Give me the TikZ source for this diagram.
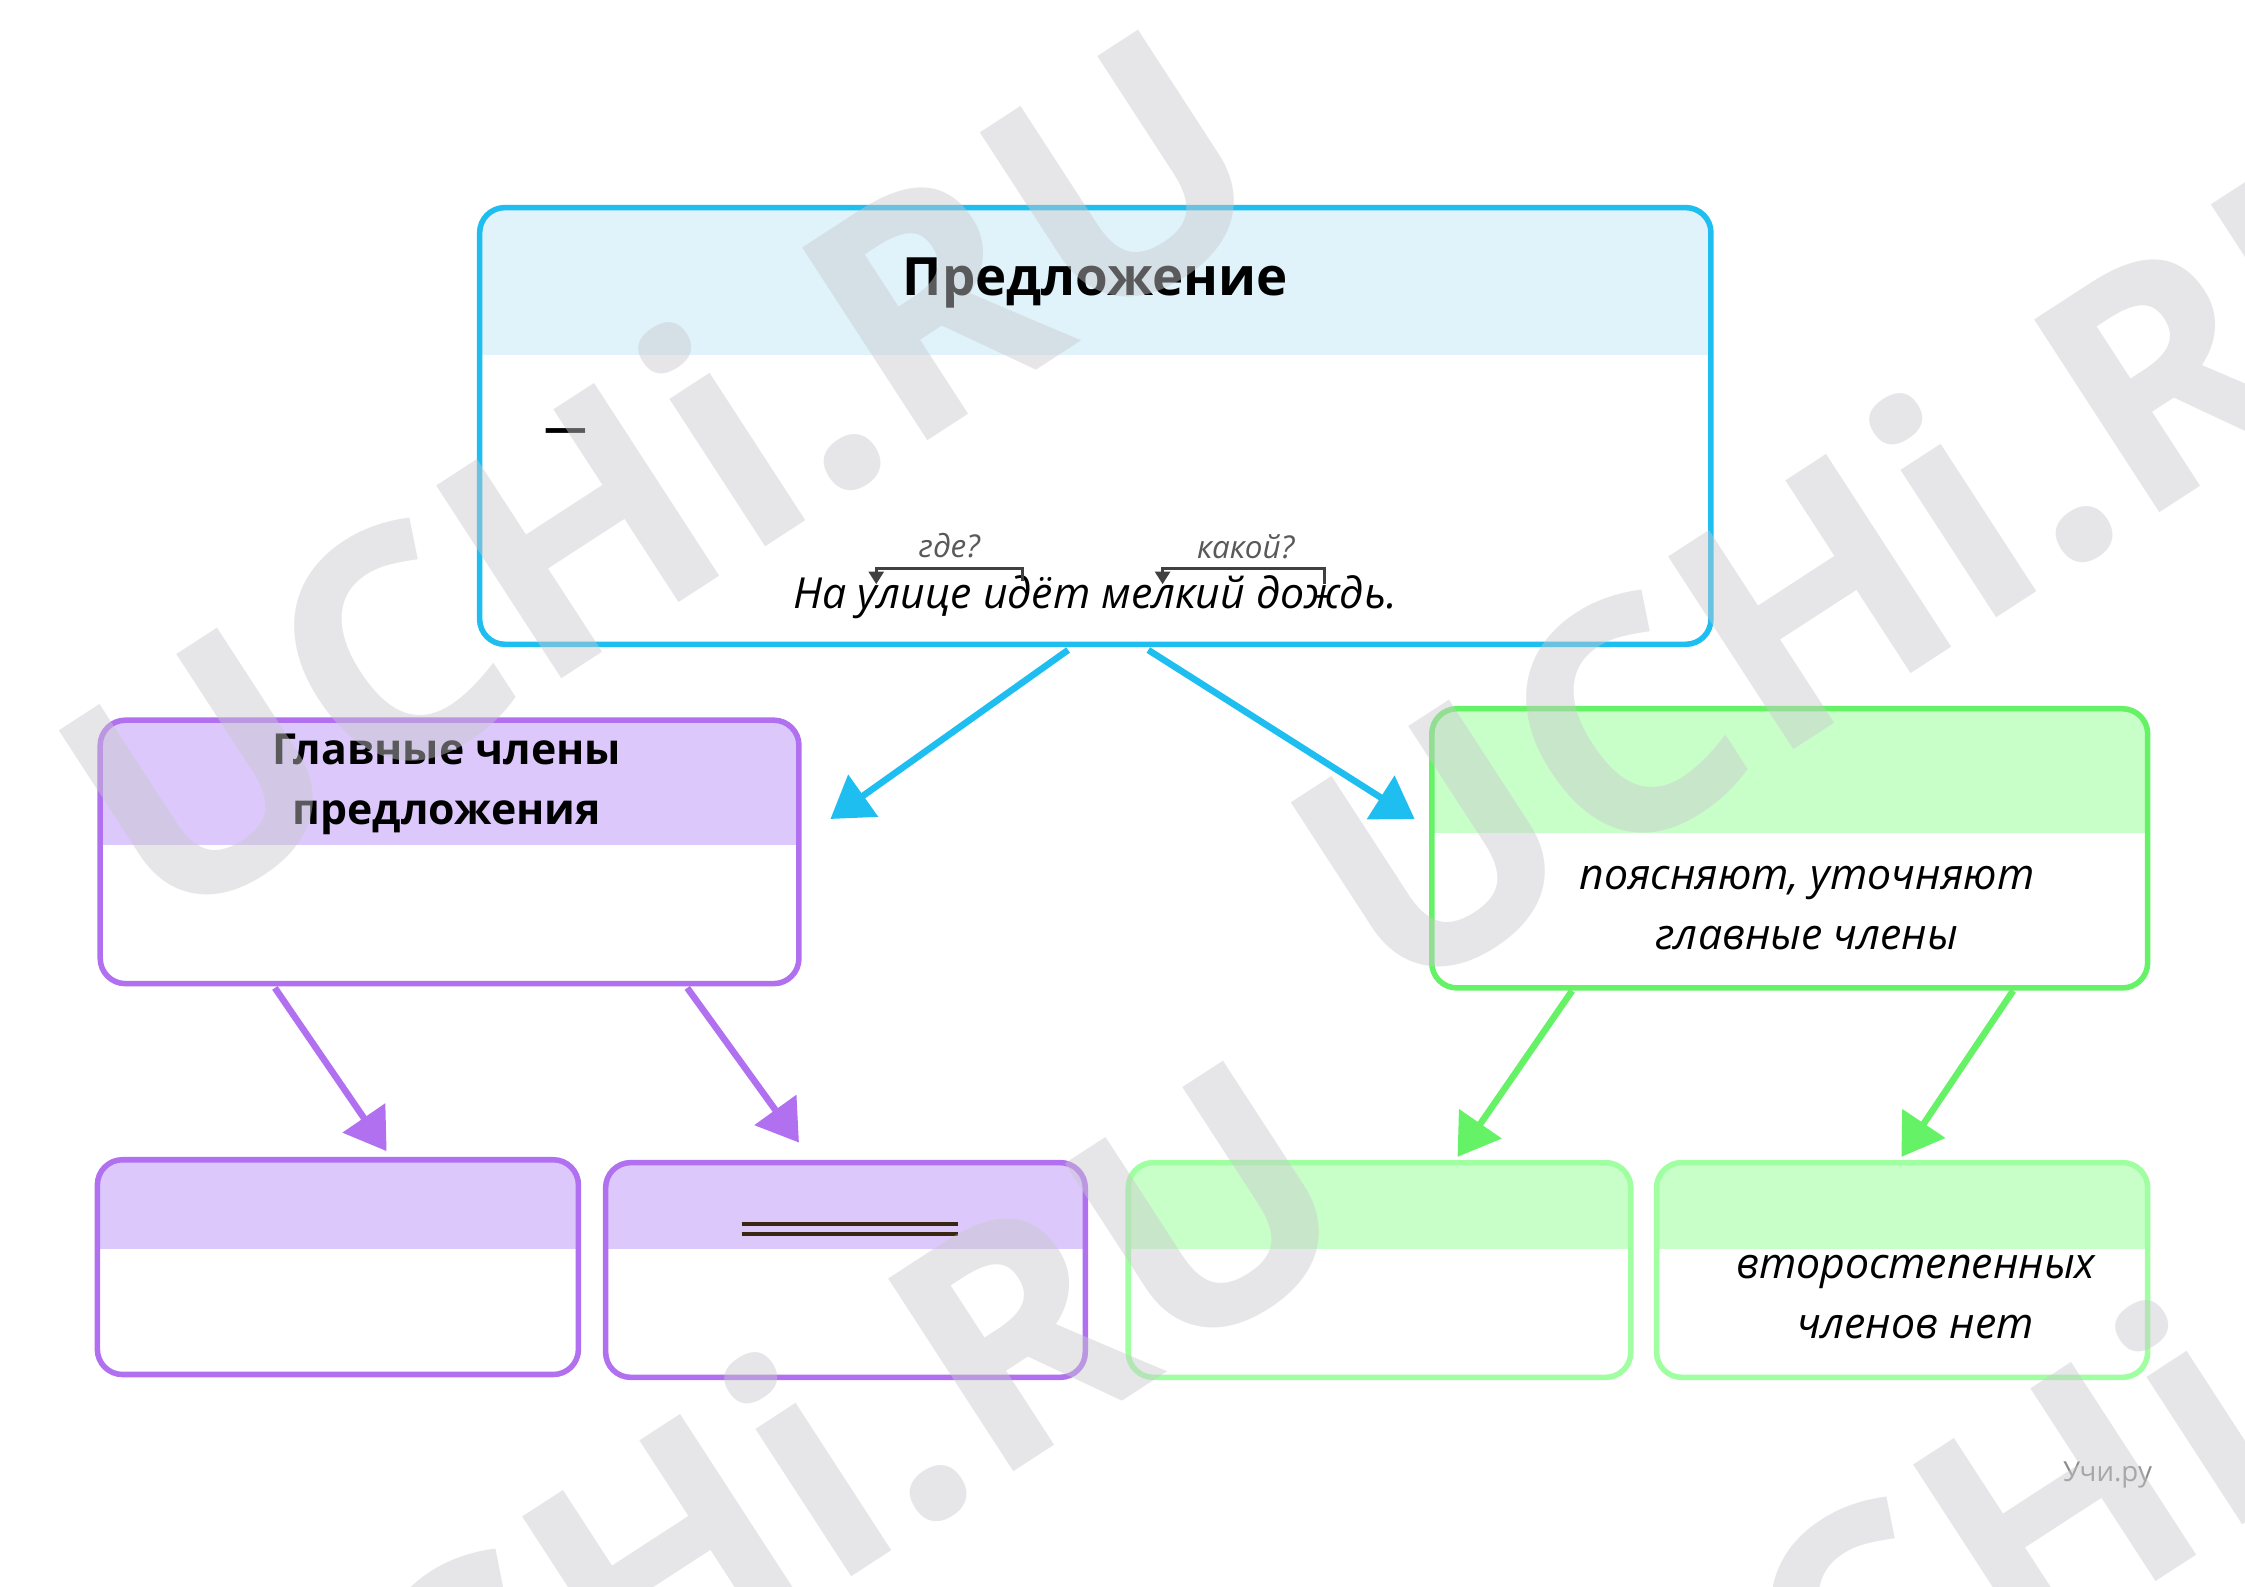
\documentclass[tikz,border=0pt]{standalone}
\usepackage{fontspec}
\setmainfont{Open Sans}
\usetikzlibrary{arrows.meta}
\definecolor{cyanb}{HTML}{1EBEF0}
\definecolor{cyanf}{HTML}{E0F3FA}
\definecolor{purb}{HTML}{B070F0}
\definecolor{purf}{HTML}{DCC8FA}
\definecolor{grb}{HTML}{66F266}
\definecolor{grl}{HTML}{A0FFA0}
\definecolor{grf}{HTML}{C8FFC8}
\definecolor{wm}{HTML}{C8C8CE}
\begin{document}
\begin{tikzpicture}[x=0.02cm,y=-0.02cm,
  box/.style={line width=2.2pt,rounded corners=10pt},
  arr/.style={line width=2.6pt,-{Triangle[length=16pt,width=20pt]}},
  wmk/.style={font=\fontsize{128}{128}\selectfont\bfseries,text=wm,opacity=0.45,rotate=33}]
\useasboundingbox (0,0) rectangle (1568,1108);
\fill[white] (0,0) rectangle (1568,1108);
% top box
\begin{scope}
\clip[rounded corners=10pt] (335,145) rectangle (1195,450);
\fill[cyanf] (335,145) rectangle (1195,248);
\end{scope}
\draw[box,cyanb] (335,145) rectangle (1195,450);
\node[font=\fontsize{21}{25}\selectfont\bfseries] (t) at (765,198) {Предложение};
\node[font=\fontsize{17}{20}\selectfont\bfseries] (dash) at (395,304) {—};
\node[font=\fontsize{17}{20}\selectfont\itshape] (s) at (765,417) {На улице идёт мелкий дождь.};
\node[font=\fontsize{12.5}{15}\selectfont\itshape,text=black!65] (q1) at (663,381) {где?};
\node[font=\fontsize{12.5}{15}\selectfont\itshape,text=black!65] (q2) at (870,382) {какой?};
\draw[line width=1pt,black!75,-{Triangle[length=5pt,width=6pt]}] (714,406) -- (714,397) -- (612,397) -- (612,408);
\draw[line width=1pt,black!75,-{Triangle[length=5pt,width=6pt]}] (925,408) -- (925,397) -- (812,397) -- (812,408);
% purple mid
\begin{scope}
\clip[rounded corners=10pt] (70,503) rectangle (558,687);
\fill[purf] (70,503) rectangle (558,590);
\end{scope}
\draw[box,purb] (70,503) rectangle (558,687);
\node[font=\fontsize{17}{24}\selectfont\bfseries,align=center] (pm) at (312,548) {Главные члены\\предложения};
% green mid
\begin{scope}
\clip[rounded corners=10pt] (1000,495) rectangle (1500,690);
\fill[grf] (1000,495) rectangle (1500,582);
\end{scope}
\draw[box,grb] (1000,495) rectangle (1500,690);
\node[font=\fontsize{17}{24}\selectfont\itshape,align=center] (gm) at (1262,634) {поясняют, уточняют\\главные члены};
% bottom boxes
\begin{scope}
\clip[rounded corners=10pt] (68,810) rectangle (404,960);
\fill[purf] (68,810) rectangle (404,872);
\end{scope}
\draw[box,purb] (68,810) rectangle (404,960);
\begin{scope}
\clip[rounded corners=10pt] (423,812) rectangle (758,962);
\fill[purf] (423,812) rectangle (758,872);
\end{scope}
\draw[box,purb] (423,812) rectangle (758,962);
\draw[line width=1.6pt,black!70!brown] (518,855) -- (669,855) (518,862) -- (669,862);
\begin{scope}
\clip[rounded corners=10pt] (788,812) rectangle (1139,962);
\fill[grf] (788,812) rectangle (1139,872);
\end{scope}
\draw[box,grl] (788,812) rectangle (1139,962);
\begin{scope}
\clip[rounded corners=10pt] (1157,812) rectangle (1500,962);
\fill[grf] (1157,812) rectangle (1500,872);
\end{scope}
\draw[box,grl] (1157,812) rectangle (1500,962);
\node[font=\fontsize{17}{24}\selectfont\itshape,align=center] (g2) at (1338,906) {второстепенных\\членов нет};
% arrows
\coordinate (a1s) at (746,454); \coordinate (a1e) at (580,572);
\coordinate (a2s) at (802,454); \coordinate (a2e) at (988,572);
\coordinate (b1s) at (192,690); \coordinate (b1e) at (270,804);
\coordinate (b2s) at (480,690); \coordinate (b2e) at (558,798);
\coordinate (c1s) at (1098,692); \coordinate (c1e) at (1018,808);
\coordinate (c2s) at (1406,692); \coordinate (c2e) at (1328,808);
\draw[arr,cyanb] (a1s) -- (a1e);
\draw[arr,cyanb] (a2s) -- (a2e);
\draw[arr,purb] (b1s) -- (b1e);
\draw[arr,purb] (b2s) -- (b2e);
\draw[arr,grb] (c1s) -- (c1e);
\draw[arr,grb] (c2s) -- (c2e);
\node[font=\fontsize{11}{13}\selectfont,text=black!45] (u) at (1472,1030) {Учи.ру};
% watermarks
\begin{scope}
\clip (0,0) rectangle (1568,1108);
\node[wmk] (w1) at (460,330) {UCHi.RU};
\node[wmk] (w2) at (1320,380) {UCHi.RU};
\node[wmk] (w3) at (520,1050) {UCHi.RU};
\node[wmk] (w4) at (1420,1060) {UCHi.R};
\end{scope}
\end{tikzpicture}
\end{document}
